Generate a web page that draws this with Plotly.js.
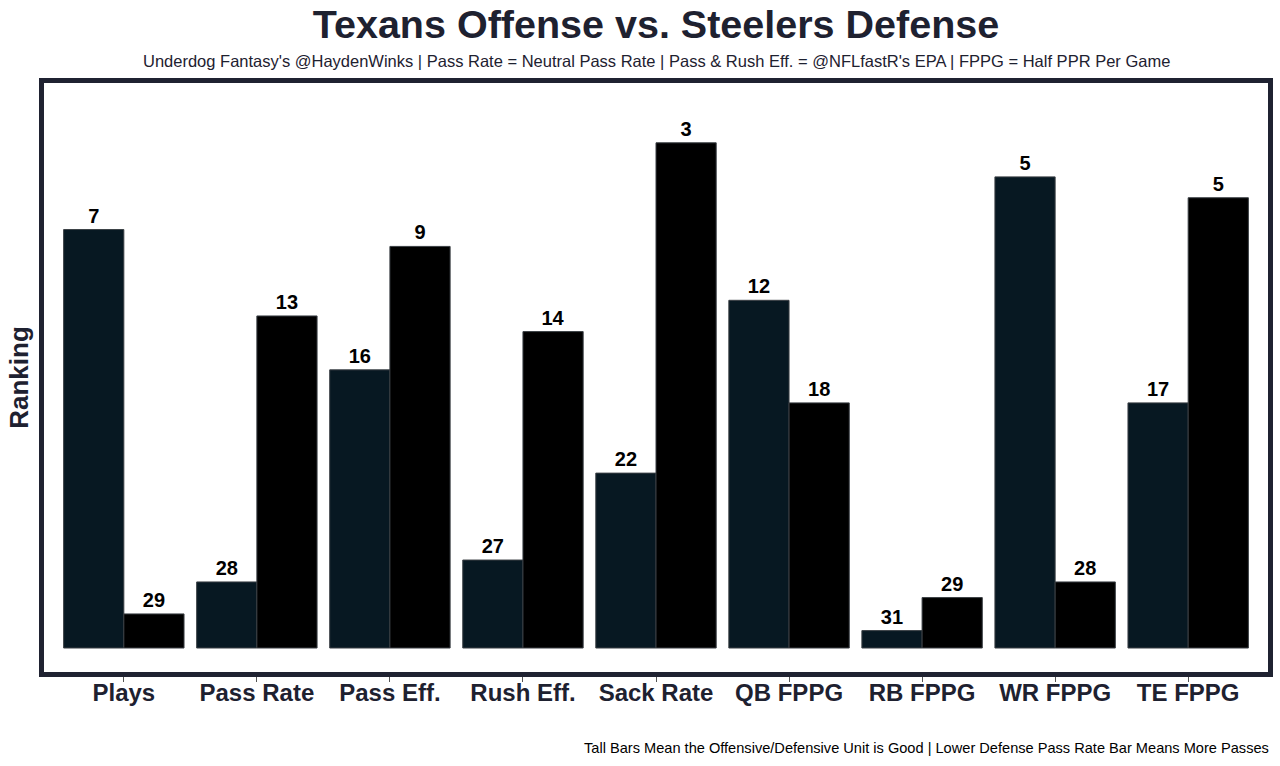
<!DOCTYPE html>
<html>
<head>
<meta charset="utf-8">
<script src="https://cdn.plot.ly/plotly-3.0.1.min.js"></script>
<style>html,body{margin:0;padding:0;background:#fff;}#chart{width:1280px;height:766px;}</style>
</head>
<body>
<div id="chart"></div>
<script>
const categories = ["Plays", "Pass Rate", "Pass Eff.", "Rush Eff.", "Sack Rate", "QB FPPG", "RB FPPG", "WR FPPG", "TE FPPG"];
// bar heights (score, taller = better)
const offenseScore = [24.07, 3.8, 16.0, 5.06, 10.06, 20.0, 1.0, 27.1, 14.1];
const defenseScore = [1.96, 19.1, 23.1, 18.2, 29.06, 14.1, 2.9, 3.8, 25.9];
// rank labels
const offenseRank = [7, 28, 16, 27, 22, 12, 31, 5, 17];
const defenseRank = [29, 13, 9, 14, 3, 18, 29, 28, 5];

const FAM = "Liberation Sans, Arial, sans-serif";
const textFont = {family: FAM, size: 20, color: "#000", weight: "bold"};
const traces = [
  {type: "bar", name: "Texans Offense", x: categories, y: offenseScore, text: offenseRank.map(String),
   textposition: "outside", textfont: textFont, cliponaxis: false,
   marker: {color: "#071822", line: {color: "#3a3f44", width: 1}}, hoverinfo: "x+text"},
  {type: "bar", name: "Steelers Defense", x: categories, y: defenseScore, text: defenseRank.map(String),
   textposition: "outside", textfont: textFont, cliponaxis: false,
   marker: {color: "#000000", line: {color: "#3a3f44", width: 1}}, hoverinfo: "x+text"}
];

const layout = {
  width: 1280, height: 766,
  margin: {l: 43.5, r: 12, t: 83, b: 94},
  paper_bgcolor: "#fff", plot_bgcolor: "#fff",
  barmode: "group", bargap: 0.095, bargroupgap: 0,
  showlegend: false,
  font: {family: FAM, color: "#1e2130"},
  title: {text: "<b>Texans Offense vs. Steelers Defense</b>", x: 0.5, xref: "paper", y: 0.968, yref: "container", yanchor: "middle",
          font: {size: 39.5, color: "#1e2130", family: FAM}},
  xaxis: {range: [-0.6, 8.6], showline: true, linewidth: 5, linecolor: "#1f2231", mirror: true,
          ticks: "outside", ticklen: 5, tickwidth: 1, tickcolor: "#555", ticklabelstandoff: -10,
          tickfont: {size: 24, color: "#1e2130", family: FAM, weight: "bold"},
          showgrid: false, zeroline: false, fixedrange: true},
  yaxis: {range: [-1.38, 32.5], showline: true, linewidth: 5, linecolor: "#1f2231", mirror: true,
          showticklabels: false, ticks: "", showgrid: false, zeroline: false, fixedrange: true,
          title: {text: "<b>Ranking</b>", standoff: 4, font: {size: 26, color: "#1e2130"}}},
  annotations: [
    {text: "Underdog Fantasy's @HaydenWinks | Pass Rate = Neutral Pass Rate | Pass & Rush Eff. = @NFLfastR's EPA | FPPG = Half PPR Per Game",
     xref: "paper", yref: "paper", x: 0.5, y: 1, yshift: 22, xanchor: "center", yanchor: "middle", showarrow: false,
     font: {size: 16.5, color: "#1e2130"}},
    {text: "Tall Bars Mean the Offensive/Defensive Unit is Good | Lower Defense Pass Rate Bar Means More Passes",
     xref: "paper", yref: "paper", x: 1, y: 0, xshift: 3, yshift: -76, xanchor: "right", yanchor: "middle", showarrow: false,
     font: {size: 14.6, color: "#000"}}
  ]
};
Plotly.newPlot("chart", traces, layout, {displayModeBar: false, staticPlot: true});
</script>
</body>
</html>
